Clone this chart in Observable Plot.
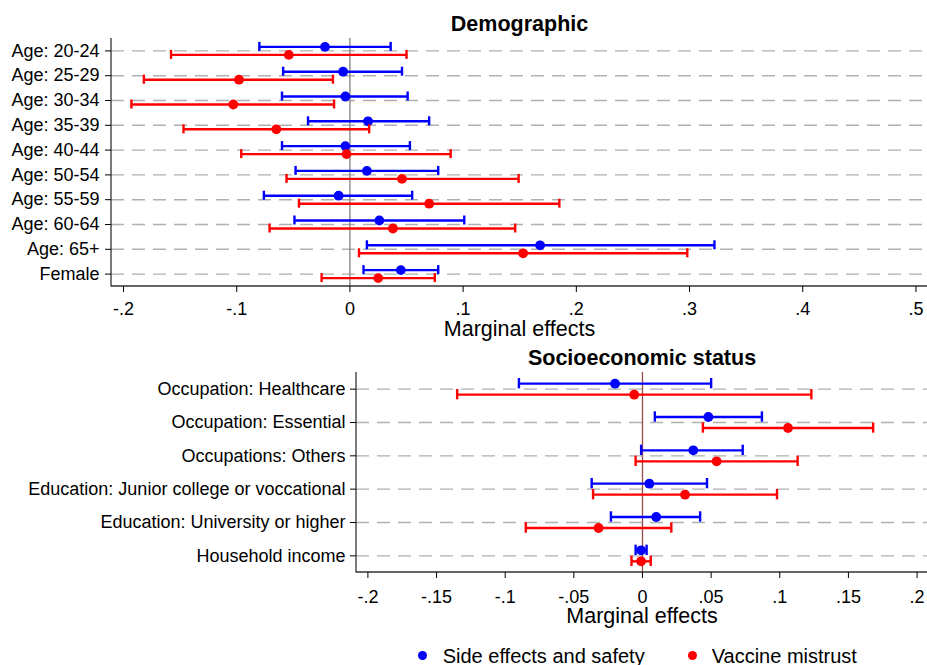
<!DOCTYPE html>
<html><head><meta charset="utf-8">
<script src="https://cdn.jsdelivr.net/npm/d3@7"></script>
<script src="https://cdn.jsdelivr.net/npm/@observablehq/plot@0.6"></script>
<style>
html,body{margin:0;padding:0;background:#fff;}
#wrap{position:relative;width:927px;height:665px;overflow:hidden;font-family:"Liberation Sans",Arial,Helvetica,sans-serif;background:#fff;}
#top{position:absolute;left:0;top:0;}
#bottom{position:absolute;left:0;top:340px;}
.leg{position:absolute;top:646px;font-size:20px;line-height:20px;white-space:nowrap;color:#000;}
.dot{position:absolute;top:650.5px;width:9px;height:9px;border-radius:50%;}
</style></head><body>
<div id="wrap"><div id="top"></div><div id="bottom"></div><div id="legend"></div></div>
<script>
// ---- Data ----
const seriesNames = ["Side effects and safety", "Vaccine mistrust"];
const seriesColors = ["#0000ff", "#ff0000"];

const demoCategories = ["Age: 20-24", "Age: 25-29", "Age: 30-34", "Age: 35-39", "Age: 40-44",
  "Age: 50-54", "Age: 55-59", "Age: 60-64", "Age: 65+", "Female"];
const demoSideEst = [-0.022, -0.006, -0.004, 0.016, -0.004, 0.015, -0.010, 0.026, 0.168, 0.045];
const demoSideLo  = [-0.080, -0.059, -0.060, -0.037, -0.060, -0.048, -0.076, -0.049, 0.015, 0.012];
const demoSideHi  = [0.036, 0.046, 0.051, 0.070, 0.053, 0.078, 0.055, 0.101, 0.322, 0.078];
const demoMisEst  = [-0.054, -0.098, -0.103, -0.065, -0.003, 0.046, 0.070, 0.038, 0.153, 0.025];
const demoMisLo   = [-0.158, -0.182, -0.193, -0.147, -0.096, -0.056, -0.045, -0.071, 0.008, -0.025];
const demoMisHi   = [0.050, -0.015, -0.014, 0.017, 0.089, 0.149, 0.185, 0.146, 0.298, 0.075];
const demoTicks = [-0.2, -0.1, 0, 0.1, 0.2, 0.3, 0.4, 0.5];
const demoTickLabels = ["-.2", "-.1", "0", ".1", ".2", ".3", ".4", ".5"];
const demoDomain = [-0.2106, 0.5102];

const socioCategories = ["Occupation: Healthcare", "Occupation: Essential", "Occupations: Others",
  "Education: Junior college or voccational", "Education: University or higher", "Household income"];
const socioSideEst = [-0.020, 0.048, 0.037, 0.005, 0.010, -0.001];
const socioSideLo  = [-0.090, 0.009, -0.001, -0.037, -0.023, -0.005];
const socioSideHi  = [0.050, 0.087, 0.073, 0.047, 0.042, 0.003];
const socioMisEst  = [-0.006, 0.106, 0.054, 0.031, -0.032, -0.001];
const socioMisLo   = [-0.135, 0.044, -0.005, -0.036, -0.085, -0.008];
const socioMisHi   = [0.123, 0.168, 0.113, 0.098, 0.021, 0.006];
const socioTicks = [-0.2, -0.15, -0.1, -0.05, 0, 0.05, 0.1, 0.15, 0.2];
const socioTickLabels = ["-.2", "-.15", "-.1", "-.05", "0", ".05", ".1", ".15", ".2"];
const socioDomain = [-0.2083, 0.2076];

const demoTitle = "Demographic";
const socioTitle = "Socioeconomic status";
const xTitle = "Marginal effects";

// ---- Build ----
const FONT = "Liberation Sans, Arial, Helvetica, sans-serif";
function rows(cats, est, lo, hi) {
  return cats.map((c, i) => ({cat: c, est: est[i], lo: lo[i], hi: hi[i]}));
}
function frameMark(axisColor) {
  return (index, scales, values, dims) => {
    const g = d3.create("svg:g").attr("stroke", axisColor).attr("stroke-width", 1.3).attr("fill", "none");
    const x0 = dims.marginLeft, x1 = dims.width - dims.marginRight;
    const y0 = dims.marginTop, y1 = dims.height - dims.marginBottom;
    g.append("line").attr("x1", x0).attr("x2", x0).attr("y1", y0).attr("y2", y1 + 0.5);
    g.append("line").attr("x1", x0).attr("x2", x1).attr("y1", y1).attr("y2", y1);
    return g.node();
  };
}
function panel(o) {
  const side = rows(o.cats, o.sideEst, o.sideLo, o.sideHi);
  const mis = rows(o.cats, o.misEst, o.misLo, o.misHi);
  const labelMap = new Map(o.ticks.map((t, i) => [t, o.tickLabels[i]]));
  const series = [[side, seriesColors[0], -o.offset], [mis, seriesColors[1], o.offsetB]];
  const marks = [
    Plot.ruleY(o.cats, {y: d => d, stroke: "#b0b0b0", strokeWidth: 1.4, strokeDasharray: "13,8"}),
    Plot.ruleX([0], {stroke: o.zeroColor, strokeWidth: 1.3}),
    frameMark("#333"),
    Plot.axisX({ticks: o.ticks, tickSize: 6, tickPadding: o.xPad, fontSize: 18, label: null,
      tickFormat: d => labelMap.get(d)}),
    Plot.axisY({tickSize: 6, tickPadding: o.yPad, fontSize: 18, label: null}),
  ];
  for (const [data, color, dy] of series) {
    marks.push(
      Plot.ruleY(data, {y: "cat", x1: "lo", x2: "hi", stroke: color, strokeWidth: 2.4, dy}),
      Plot.tickX(data, {x: "lo", y: "cat", stroke: color, strokeWidth: 2.4, insetTop: o.capInset, insetBottom: o.capInset, dy}),
      Plot.tickX(data, {x: "hi", y: "cat", stroke: color, strokeWidth: 2.4, insetTop: o.capInset, insetBottom: o.capInset, dy}),
      Plot.dot(data, {x: "est", y: "cat", r: 4.9, fill: color, stroke: "none", dy})
    );
  }
  marks.push(
    Plot.text([o.title], {text: d => d, frameAnchor: "top", lineAnchor: "bottom", dy: o.titleDy,
      fontSize: 21.5, fontWeight: "bold", fill: "#000"}),
    Plot.text([xTitle], {text: d => d, frameAnchor: "bottom", lineAnchor: "bottom", dy: o.labelDy,
      fontSize: 21.5, fill: "#000"})
  );
  return Plot.plot({
    width: 927, height: o.height,
    marginTop: o.marginTop, marginBottom: o.marginBottom, marginLeft: o.marginLeft, marginRight: 0,
    x: {domain: o.domain},
    y: {type: "band", domain: o.cats, padding: 0, round: false},
    style: {fontFamily: FONT, fontSize: "18px", color: "#000", background: "transparent", overflow: "visible"},
    marks
  });
}

document.getElementById("top").append(panel({
  cats: demoCategories, sideEst: demoSideEst, sideLo: demoSideLo, sideHi: demoSideHi,
  misEst: demoMisEst, misLo: demoMisLo, misHi: demoMisHi,
  ticks: demoTicks, tickLabels: demoTickLabels, domain: demoDomain, title: demoTitle,
  height: 340, marginTop: 38, marginBottom: 54, marginLeft: 111,
  offset: 4, offsetB: 4, capInset: 7.9, zeroColor: "#808080", titleDy: -8, labelDy: 49, yPad: 6, xPad: 10
}));
document.getElementById("bottom").append(panel({
  cats: socioCategories, sideEst: socioSideEst, sideLo: socioSideLo, sideHi: socioSideHi,
  misEst: socioMisEst, misLo: socioMisLo, misHi: socioMisHi,
  ticks: socioTicks, tickLabels: socioTickLabels, domain: socioDomain, title: socioTitle,
  height: 290, marginTop: 32, marginBottom: 58, marginLeft: 356,
  offset: 5.5, offsetB: 5.5, capInset: 11.5, zeroColor: "#9b4b45", titleDy: -8, labelDy: 50, yPad: 5, xPad: 11.5
}));

// Legend
const legendDotX = [418.2, 687.5];
const legendTextX = [442.7, 711.7];
const leg = document.getElementById("legend");
seriesNames.forEach((name, i) => {
  const d = document.createElement("div");
  d.className = "dot"; d.style.left = legendDotX[i] + "px"; d.style.background = seriesColors[i];
  leg.append(d);
  const t = document.createElement("div");
  t.className = "leg"; t.style.left = legendTextX[i] + "px"; t.textContent = name;
  leg.append(t);
});
</script>
</body></html>
